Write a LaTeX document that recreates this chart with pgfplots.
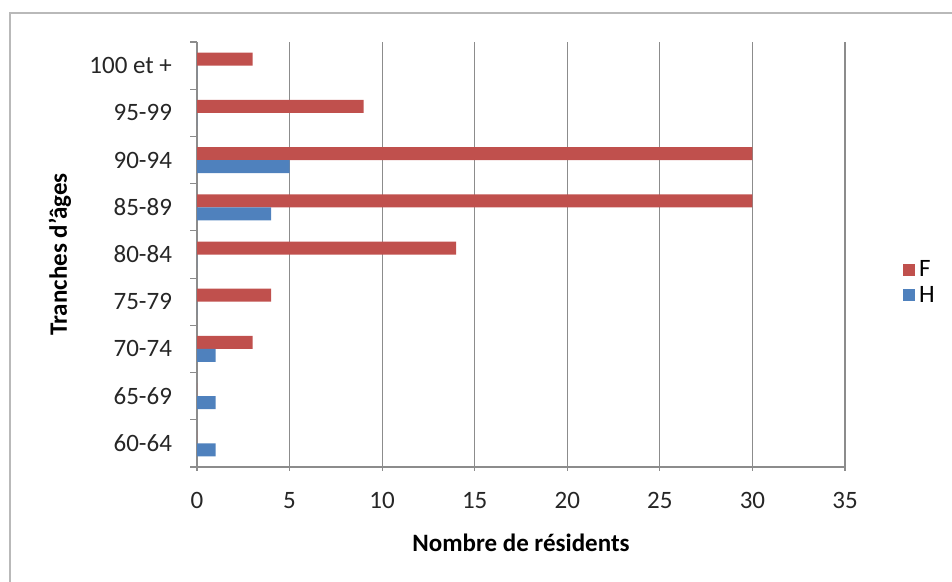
\documentclass[border=0pt]{standalone}
\usepackage{pgfplots}
\pgfplotsset{compat=1.18}
\usepackage{fontspec}
\setmainfont{Carlito}
\definecolor{cF}{HTML}{C0504D}
\definecolor{cH}{HTML}{4F81BD}
\definecolor{gridc}{HTML}{8C8C8C}
\begin{document}
\begin{tikzpicture}[x=1pt,y=1pt]
\path[use as bounding box] (0,0) rectangle (476,291);
\draw[gray!55, line width=0.7pt] (5,0) -- (5,284.5) -- (476,284.5);
\begin{axis}[
  at={(98.5pt,57.5pt)}, anchor=south west,
  scale only axis, width=324pt, height=212.5pt,
  xmin=0, xmax=35, ymin=-0.5, ymax=8.5,
  xtick={0,5,...,35},
  ytick={0,...,8},
  yticklabels={60-64,65-69\hspace{3pt},70-74,75-79,80-84,85-89,90-94,95-99,100 et +},
  minor ytick={-0.5,0.5,...,8.5},
  major y tick style={draw=none},
  minor tick length=3.5pt,
  major tick length=4pt,
  tick align=outside,
  axis lines=left,
  axis line style={-, gridc, line width=0.6pt},
  tick style={gridc, line width=0.6pt},
  xmajorgrids, grid style={gridc, line width=0.6pt},
  xbar, bar width=6.5pt,
  /pgf/number format/assume math mode=true,
  tick label style={font=\fontsize{12.5}{15}\selectfont, text=black!85},
  yticklabel style={xshift=-5pt},
  xticklabel style={yshift=-7pt},
  xlabel={\textbf{Nombre de résidents}},
  ylabel={\textbf{Tranches d'âges}},
  label style={font=\fontsize{12.5}{15}\selectfont},
  xlabel style={at={(axis description cs:0.5,0)}, anchor=center, yshift=-38pt},
  ylabel style={at={(axis description cs:0,0.5)}, anchor=center, yshift=68.5pt},
  legend style={draw=none, fill=none, at={(1.08,0.433)}, anchor=west,
    font=\fontsize{12.5}{15}\selectfont, row sep=-1pt, legend cell align=left},
  legend image code/.code={\fill[#1] (0pt,-3pt) rectangle (6pt,3pt);},
]
\addplot[fill=cF, draw=none, bar shift=3.25pt] coordinates {
(0,0) (0,1) (3,2) (4,3) (14,4) (30,5) (30,6) (9,7) (3,8)};
\addplot[fill=cH, draw=none, bar shift=-3.25pt] coordinates {
(1,0) (1,1) (1,2) (0,3) (0,4) (4,5) (5,6) (0,7) (0,8)};
\legend{F,H}
\end{axis}
\end{tikzpicture}
\end{document}
